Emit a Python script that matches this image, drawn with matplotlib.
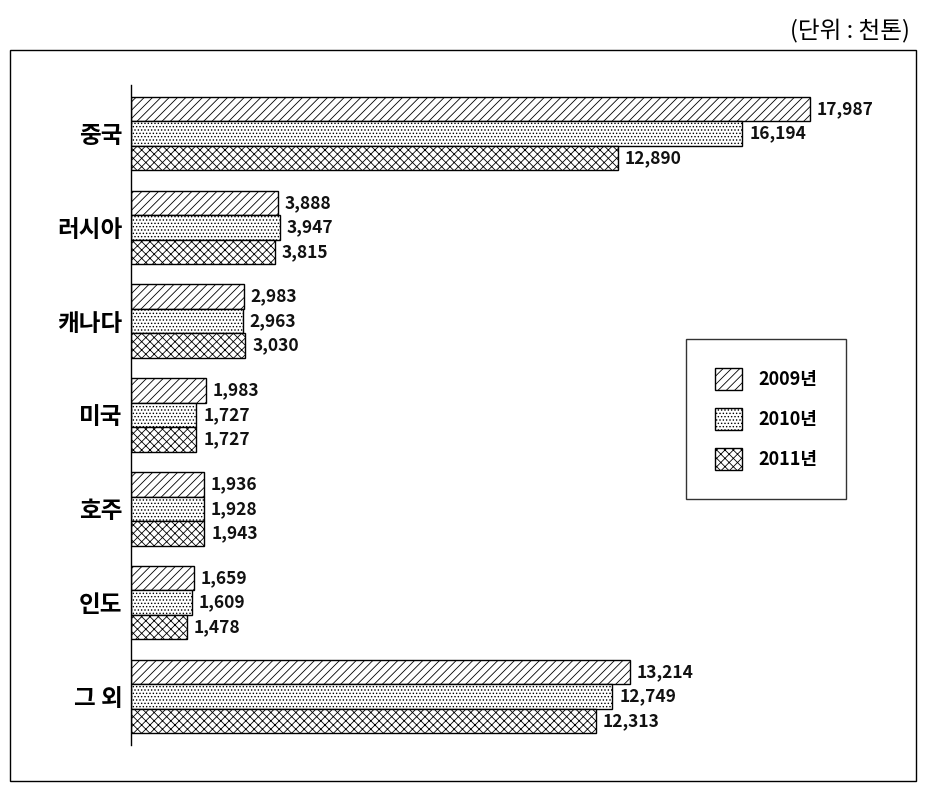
import numpy as np
import matplotlib.pyplot as plt
from matplotlib.patches import Rectangle, Patch

plt.rcParams['font.family'] = ['Noto Sans CJK KR', 'DejaVu Sans']
plt.rcParams['hatch.linewidth'] = 0.6

# data (단위 : 천톤)
countries = ['중국', '러시아', '캐나다', '미국', '호주', '인도', '그 외']
y2009 = [17987, 3888, 2983, 1983, 1936, 1659, 13214]
y2010 = [16194, 3947, 2963, 1727, 1928, 1609, 12749]
y2011 = [12890, 3815, 3030, 1727, 1943, 1478, 12313]
years = ['2009년', '2010년', '2011년']
hatches = ['////', '.....', 'xxxx']

fig = plt.figure(figsize=(9.25, 7.86), dpi=100)
ax = fig.add_axes([131/925, 1-745/786, (905-131)/925, (745-85)/786])

pos = np.arange(len(countries))
h = 0.261
for k, vals in enumerate([y2009, y2010, y2011]):
    bars = ax.barh(pos + (k-1)*h, vals, height=h, color='white',
                   edgecolor='black', linewidth=1, hatch=hatches[k], label=years[k])
    ax.bar_label(bars, labels=[f'{v:,}' for v in vals], padding=5,
                 fontsize=12.5, fontweight='bold', color='#111111')

ax.set_xlim(0, (905-131)/((810-131)/17987))
ax.set_ylim(6.517, -0.517)
ax.set_yticks(pos)
ax.set_yticklabels(countries, fontsize=17, fontweight='bold')
ax.tick_params(axis='y', length=0, pad=6)
ax.set_xticks([])
for s in ['top', 'right', 'bottom']:
    ax.spines[s].set_visible(False)
ax.spines['left'].set_linewidth(1)

# legend
handles = [Patch(facecolor='white', edgecolor='black', hatch=hatches[k], label=years[k]) for k in range(3)]
leg = ax.legend(handles=handles, loc='upper left', bbox_to_anchor=((686-131)/774, 1-(339-85)/660),
                frameon=True, fancybox=False, edgecolor='black', fontsize=13,
                handlelength=1.5, handleheight=1.5, handletextpad=0.9,
                labelspacing=1.0, borderpad=1.6, borderaxespad=0)
leg.get_frame().set_linewidth(1)
for t in leg.get_texts():
    t.set_fontweight('bold')

# outer frame and unit
fig.patches.append(Rectangle((10/925, 1-781/786), (916-10)/925, (781-50)/786,
                             transform=fig.transFigure, fill=False, edgecolor='black', linewidth=1))
fig.text(910/925, 1-31/786, '(단위 : 천톤)', ha='right', va='center', fontsize=17)

fig.savefig('out.png', dpi=100)
